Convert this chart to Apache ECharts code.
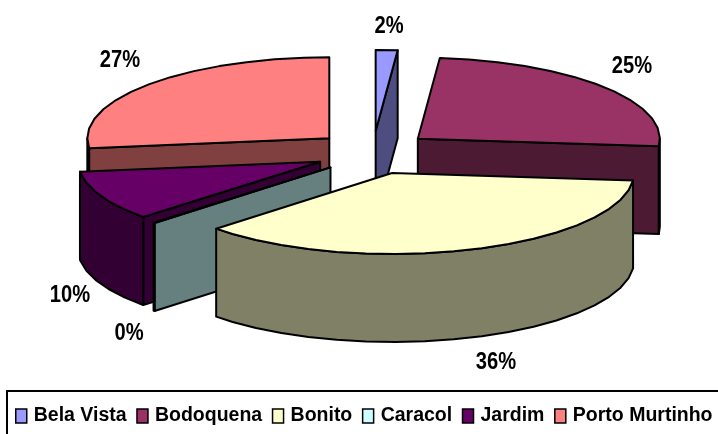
<!DOCTYPE html>
<html>
<head>
<meta charset="utf-8">
<title>Pie</title>
<style>
html,body{margin:0;padding:0;background:#fff;overflow:hidden}
#left1{width:718px;height:434px}
</style>
<script src="https://cdn.jsdelivr.net/npm/echarts@6/dist/echarts.min.js"></script>
</head>
<body>
<div id="left1"></div>
<script>
// data
var categories = ['Bela Vista', 'Bodoquena', 'Bonito', 'Caracol', 'Jardim', 'Porto Murtinho'];
var shares = [1.45, 25, 36.5, 0.1, 10, 26.95];
var pctLabels = ['2%', '25%', '36%', '0%', '10%', '27%'];

var topColors = ['#9999ff', '#993366', '#ffffcc', '#ccffff', '#660066', '#ff8080'];
var sideColors = ['#4d4d80', '#4d1a33', '#808066', '#668080', '#330033', '#804040'];
// label centres in pixels
var labelX = [389, 632, 496, 129, 70, 120];
var labelY = [26, 66, 362, 333, 295, 60];

var FONT = '"Liberation Sans",Arial,sans-serif';
var DEPTH = 1.086;     // extrusion, in y axis units
var EXPLODE_X = 0.241;
var EXPLODE_Y = 0.267;
var ARC_STEP = 7;      // the original arcs are coarse polylines

var total = 0;
shares.forEach(function (v) { total += v; });
var startAngles = [], endAngles = [], acc = 0;
shares.forEach(function (v) {
    startAngles.push(acc / total * 360);
    acc += v;
    endAngles.push(acc / total * 360);
});

function rad(d) { return d * Math.PI / 180; }

// back slices get painted first
function midCos(i) { return Math.cos(rad((startAngles[i] + endAngles[i]) / 2)); }
var paintOrder = categories.map(function (c, i) { return i; }).sort(function (a, b) {
    return midCos(b) - midCos(a);
});

function makeRender(i) {
    return function (params, api) {
        var a0 = startAngles[i], a1 = endAngles[i];
        var mid = rad((a0 + a1) / 2);
        var ox = Math.sin(mid) * EXPLODE_X, oy = Math.cos(mid) * EXPLODE_Y;
        function pt(x, y, down) { return api.coord([ox + x, oy + y - (down ? DEPTH : 0)]); }
        function rim(a, down) { return pt(Math.sin(rad(a)), Math.cos(rad(a)), down); }
        function arcAngles(from, to) {
            var list = [from], a = from + ARC_STEP;
            while (a < to) { list.push(a); a += ARC_STEP; }
            list.push(to);
            return list;
        }
        function poly(points, fill) {
            return { type: 'polygon', shape: { points: points }, style: { fill: fill, stroke: '#000', lineWidth: 2, lineJoin: 'round' } };
        }
        function radial(a) {
            return poly([pt(0, 0), rim(a), rim(a, true), pt(0, 0, true)], sideColors[i]);
        }
        var children = [];
        if (Math.sin(rad(a0)) < -1e-6) children.push(radial(a0));
        if (Math.sin(rad(a1)) > 1e-6) children.push(radial(a1));

        // outer wall, front half only
        var w0 = Math.max(a0, 90), w1 = Math.min(a1, 270);
        if (w1 > w0) {
            var arc = arcAngles(w0, w1), wall = [];
            arc.forEach(function (a) { wall.push(rim(a)); });
            arc.slice().reverse().forEach(function (a) { wall.push(rim(a, true)); });
            children.push(poly(wall, sideColors[i]));
        }
        var face = [pt(0, 0)];
        arcAngles(a0, a1).forEach(function (a) { face.push(rim(a)); });
        children.push(poly(face, topColors[i]));

        // squeezed a bit, the original labels are a tall narrow bold
        children.push({
            type: 'text',
            x: labelX[i],
            y: labelY[i],
            scaleX: 0.84,
            style: {
                text: pctLabels[i], x: 0, y: 0, fill: '#000',
                font: 'bold 24px ' + FONT, align: 'center', verticalAlign: 'middle'
            }
        });
        return { type: 'group', children: children };
    };
}

var myChart = echarts.init(document.getElementById('left1'), null, { renderer: 'canvas' });
var option = {
    animation: false,
    grid: { left: 131, width: 484, top: 71.6, height: 162 },
    xAxis: { type: 'value', min: -1, max: 1, show: false },
    yAxis: { type: 'value', min: -1, max: 1, show: false },
    legend: {
        data: categories.map(function (c) { return { name: c, icon: 'rect' }; }),
        left: 7,
        top: 391,
        width: 760,
        orient: 'horizontal',
        padding: [15, 16, 20, 8],   // right edge of the box runs off the page
        borderColor: '#000',
        borderWidth: 2,
        itemWidth: 11,
        itemHeight: 14,
        itemGap: 9.6,
        selectedMode: false,
        itemStyle: { borderColor: '#000', borderWidth: 1.5 },
        textStyle: { color: '#000', fontWeight: 'bold', fontSize: 19.5, fontFamily: FONT, padding: [0, 0, 0, 2] }
    },
    series: categories.map(function (c, i) {
        return {
            type: 'custom',
            name: c,
            coordinateSystem: 'cartesian2d',
            z: 2 + paintOrder.indexOf(i),
            itemStyle: { color: topColors[i] },
            data: [[shares[i]]],
            encode: { x: -1, y: -1 },
            silent: true,
            renderItem: makeRender(i)
        };
    })
};
myChart.setOption(option);
</script>
</body>
</html>
